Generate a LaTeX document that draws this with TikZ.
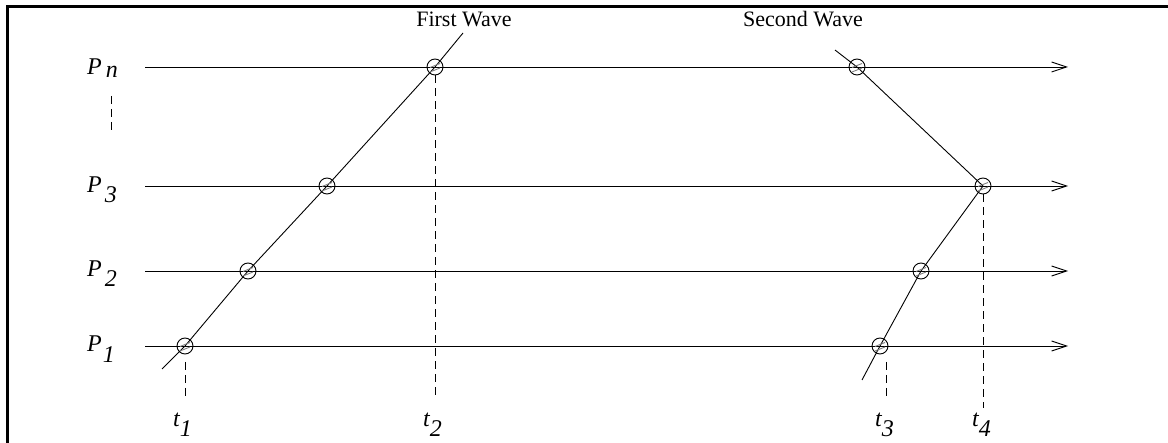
\documentclass[tikz,border=0pt]{standalone}
\usepackage{fontspec}
\setmainfont{Liberation Serif}
\usetikzlibrary{arrows.meta}
\newcommand\myWfont{\fontsize{22pt}{24pt}\selectfont}
\newcommand\myPfont{\fontsize{24pt}{26pt}\selectfont\itshape}
\newcommand\myLab[3]{{\myPfont #1}\raisebox{-#3}{\myPfont #2}}
\begin{document}
\begin{tikzpicture}[x=1pt,y=-1pt,
  tl/.style={line width=0.9pt,-{Straight Barb[length=15pt,width=10pt,line width=0.9pt]}},
  wave/.style={line width=0.9pt},
  dsh/.style={line width=0.9pt,dash pattern=on 8pt off 5pt},
  ev/.style={circle,draw,line width=0.9pt,minimum size=16pt,inner sep=0pt,
    path picture={\draw[line width=0.9pt,gray] ([xshift=-5pt,yshift=-0.5pt]path picture bounding box.center)--++(10pt,4pt);
                  \draw[line width=0.9pt,gray] ([xshift=-5pt,yshift=-5pt]path picture bounding box.center)--++(10pt,4pt);}},
  plab/.style={inner sep=0pt,anchor=base west},
  wlab/.style={inner sep=0pt,anchor=base}]
\useasboundingbox (0,0) rectangle (1168,443);
\draw[line width=3pt] (7,443) -- (7,7) -- (1168,7);
% process lines
\coordinate (sn) at (145,67); \coordinate (en) at (1068,67);
\coordinate (s3) at (145,186); \coordinate (e3) at (1068,186);
\coordinate (s2) at (145,271); \coordinate (e2) at (1068,271);
\coordinate (s1) at (145,346); \coordinate (e1) at (1068,346);
\draw[tl] (sn) -- (en);
\draw[tl] (s3) -- (e3);
\draw[tl] (s2) -- (e2);
\draw[tl] (s1) -- (e1);
% labels
\node[plab] (lpn) at (87,75) {\myLab{P}{\hspace{4pt}n}{3pt}};
\node[plab] (lp3) at (87,193) {\myLab{P}{\hspace{3pt}3}{10pt}};
\node[plab] (lp2) at (87,277) {\myLab{P}{\hspace{3pt}2}{10pt}};
\node[plab] (lp1) at (87,352) {\myLab{P}{\hspace{1pt}1}{11pt}};
\coordinate (vd1) at (111,96); \coordinate (vd2) at (111,134);
\draw[dsh] (vd1) -- (vd2);
% first wave
\coordinate (fa) at (162,369);
\coordinate (fb) at (463,33);
\draw[wave] (fa) -- (185,346) -- (248,271) -- (327,186) -- (435,67) -- (fb);
\node[ev] (a1) at (185,346) {};
\node[ev] (a2) at (248,271) {};
\node[ev] (a3) at (327,186) {};
\node[ev] (an) at (435,67) {};
% second wave
\coordinate (sa) at (835,50);
\coordinate (sb) at (862,380);
\draw[wave] (sa) -- (857,67) -- (983,186) -- (921,271) -- (880,346) -- (sb);
\node[ev] (bn) at (857,67) {};
\node[ev] (b3) at (983,186) {};
\node[ev] (b2) at (921,271) {};
\node[ev] (b1) at (880,346) {};
% time markers
\node[plab] (t1) at (173,427) {\myLab{t}{1}{10pt}};
\node[plab] (t2) at (423,427) {\myLab{t}{2}{10pt}};
\node[plab] (t3) at (875,427) {\myLab{t}{3}{10pt}};
\node[plab] (t4) at (972,427) {\myLab{t}{4}{10pt}};
\coordinate (c1) at (185,362); \coordinate (d1) at (185,400);
\coordinate (c3) at (886,362); \coordinate (d3) at (886,400);
\coordinate (d2) at (435,400); \coordinate (d4) at (983,408);
\draw[dsh] (c1) -- (d1);
\draw[dsh] (an.south) -- (d2);
\draw[dsh] (c3) -- (d3);
\draw[dsh] (b3.south) -- (d4);
% wave labels
\node[wlab] (fw) at (464,27) {\myWfont First Wave};
\node[wlab] (sw) at (803,27) {\myWfont Second Wave};
\end{tikzpicture}
\end{document}
